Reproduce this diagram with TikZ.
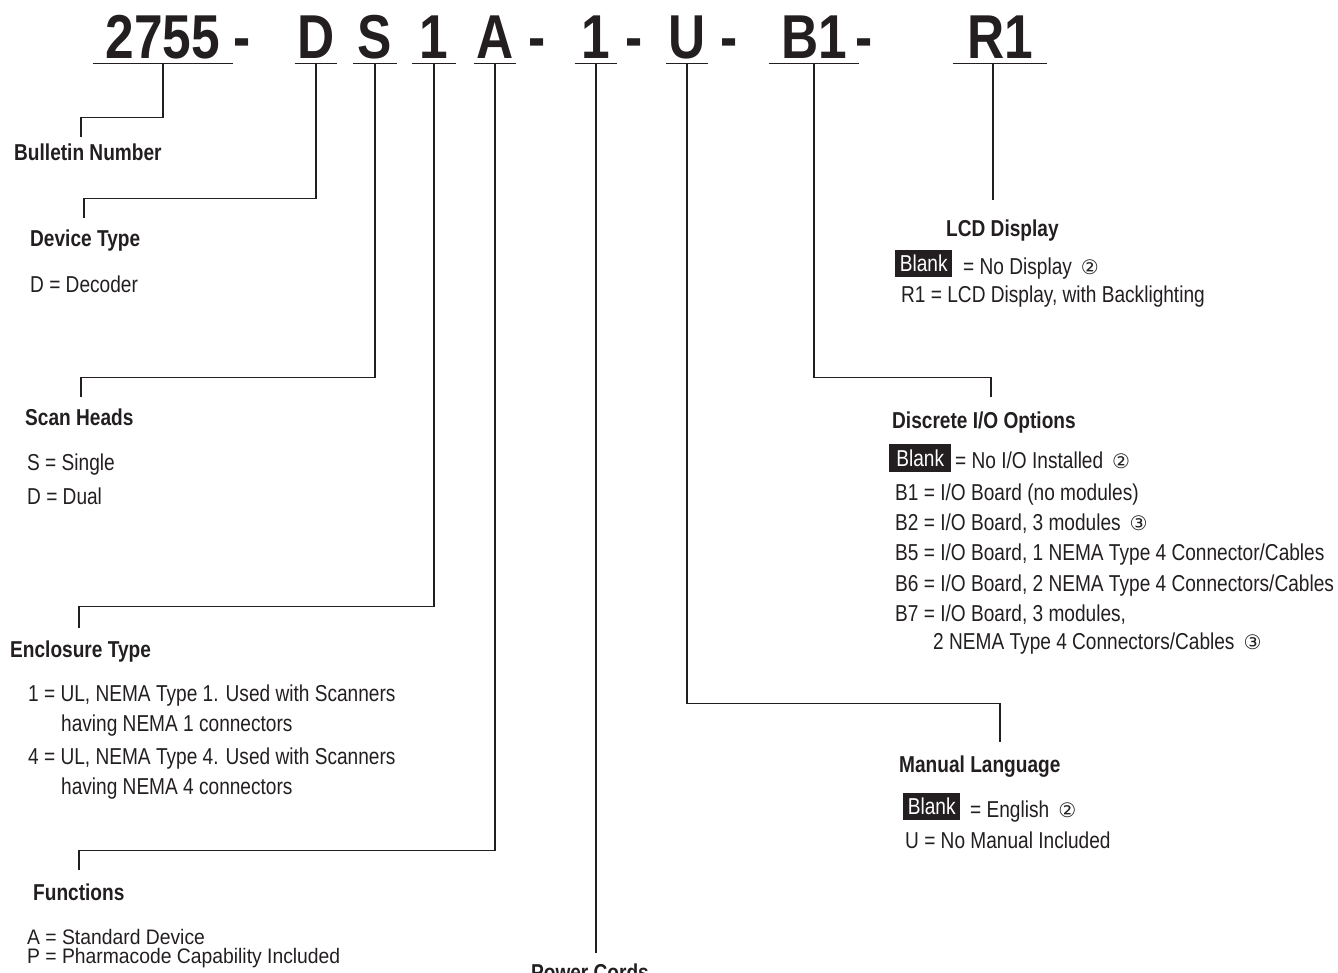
\documentclass[tikz,border=0pt]{standalone}
\usepackage{fontspec}
\setmainfont{Liberation Sans}[FakeStretch=0.83]
\newfontfamily\widefont{Liberation Sans}[FakeStretch=0.92]
\newfontfamily\circfont{DejaVu Sans}
\usetikzlibrary{positioning}
\definecolor{ink}{RGB}{35,31,32}
\newcommand{\circnum}[1]{\hspace{9pt}{\circfont\fontsize{20}{20}\selectfont #1}}

\begin{document}
\begin{tikzpicture}[x=1pt, y=-1pt,
  code/.style={font=\bfseries\fontsize{62}{62}\selectfont, text=ink, anchor=base, inner xsep=0pt, inner ysep=4pt, text depth=0pt},
  codedash/.style={font=\bfseries\fontsize{62}{62}\selectfont, text=ink, anchor=base, inner sep=0pt},
  head/.style={font=\bfseries\fontsize{23}{23}\selectfont, text=ink, anchor=base west, inner sep=0pt},
  item/.style={font=\fontsize{23}{23}\selectfont, text=ink, anchor=base west, inner sep=0pt},
  smallitem/.style={font=\widefont\fontsize{21}{21}\selectfont, text=ink, anchor=base west, inner sep=0pt},
  blank/.style={fill=ink, text=white, font=\fontsize{23}{23}\selectfont, inner sep=0pt, minimum width=57, minimum height=27, anchor=north west},
  wire/.style={draw=ink, line width=1.3pt}]
  \useasboundingbox (0,0) rectangle (1338,973);

  % catalog number
  \node[code, minimum width=140] (bulletin) at (163,59) {2755};
  \node[codedash] (d1) at (242,59) {-};
  \node[code, minimum width=42] (device) at (316,59) {D};
  \node[code, minimum width=43] (scan) at (375,59) {S};
  \node[code, minimum width=43] (encl) at (434,59) {1};
  \node[code, minimum width=42] (func) at (495,59) {A};
  \node[codedash] (d2) at (537,59) {-};
  \node[code, minimum width=42] (power) at (596,59) {1};
  \node[codedash] (d3) at (634,59) {-};
  \node[code, minimum width=41] (manual) at (687,59) {U};
  \node[codedash] (d4) at (729,59) {-};
  \node[code, minimum width=90] (io) at (814,59) {B1};
  \node[codedash] (d5) at (864,59) {-};
  \node[code, minimum width=94] (lcd) at (1000,59) {R1};
  \foreach \n in {bulletin,device,scan,encl,func,power,manual,io,lcd}
    \draw[wire] (\n.south west) -- (\n.south east);

  % left side
  \node[head] (bulletinhead) at (14,161) {Bulletin Number};

  \node[head] (devicehead) at (30,247) {Device Type};
  \node[item] (devd) at (30,293) {D = Decoder};

  \node[head] (scanhead) at (25,425) {Scan Heads};
  \node[item] (scans) at (27,470) {S = Single};
  \node[item] (scand) at (27,504) {D = Dual};

  \node[head] (enclhead) at (10,657) {Enclosure Type};
  \node[item] (encla) at (28,701) {1 = UL, NEMA Type 1. Used with Scanners};
  \node[item] (enclb) at (61,731) {having NEMA 1 connectors};
  \node[item] (enclc) at (28,764) {4 = UL, NEMA Type 4. Used with Scanners};
  \node[item] (encld) at (61,794) {having NEMA 4 connectors};

  \node[head] (funchead) at (33,900) {Functions};
  \node[smallitem] (funca) at (27,944) {A = Standard Device};
  \node[smallitem] (funcp) at (27,963) {P = Pharmacode Capability Included};

  \node[head, anchor=base] (powerhead) at (590,980) {Power Cords};

  % right side
  \node[head] (lcdhead) at (946,237) {LCD Display};
  \node[blank] (lcdblank) at (895,250) {Blank};
  \node[item] (lcdno) at (963,275) {= No Display\circnum{②}};
  \node[item] (lcdr1) at (901,303) {R1 = LCD Display, with Backlighting};

  \node[head] (iohead) at (892,428) {Discrete I/O Options};
  \node[blank, minimum width=62, minimum height=28] (ioblank) at (889,444) {Blank};
  \node[item] (iono) at (955,468) {= No I/O Installed\circnum{②}};
  \node[item] (iob1) at (895,500) {B1 = I/O Board (no modules)};
  \node[item] (iob2) at (895,530) {B2 = I/O Board, 3 modules\circnum{③}};
  \node[item] (iob5) at (895,560) {B5 = I/O Board, 1 NEMA Type 4 Connector/Cables};
  \node[item] (iob6) at (895,591) {B6 = I/O Board, 2 NEMA Type 4 Connectors/Cables};
  \node[item] (iob7) at (895,621) {B7 = I/O Board, 3 modules,};
  \node[item] (iob7b) at (933,649) {2 NEMA Type 4 Connectors/Cables\circnum{③}};

  \node[head] (manualhead) at (899,772) {Manual Language};
  \node[blank] (manualblank) at (903,793) {Blank};
  \node[item] (manualeng) at (970,817) {= English\circnum{②}};
  \node[item] (manualu) at (905,848) {U = No Manual Included};

  % connectors
  \coordinate (bulletinend) at (81,137);
  \coordinate (deviceend) at (84,218);
  \coordinate (scanend) at (81,397);
  \coordinate (enclend) at (79,628);
  \coordinate (funcend) at (79,870);
  \coordinate (powerend) at (596,953);
  \coordinate (manualend) at (1000,742);
  \coordinate (ioend) at (991,397);
  \coordinate (lcdend) at (993,200);

  \draw[wire] (bulletin.south) -- ++(0,54) -| (bulletinend);
  \draw[wire] (device.south) -- ++(0,135) -| (deviceend);
  \draw[wire] (scan.south) -- ++(0,314) -| (scanend);
  \draw[wire] (encl.south) -- ++(0,543) -| (enclend);
  \draw[wire] (func.south) -- ++(0,787) -| (funcend);
  \draw[wire] (power.south) -- (powerend);
  \draw[wire] (manual.south) -- ++(0,640) -| (manualend);
  \draw[wire] (io.south) -- ++(0,314) -| (ioend);
  \draw[wire] (lcd.south -| lcdend) -- (lcdend);
\end{tikzpicture}
\end{document}
